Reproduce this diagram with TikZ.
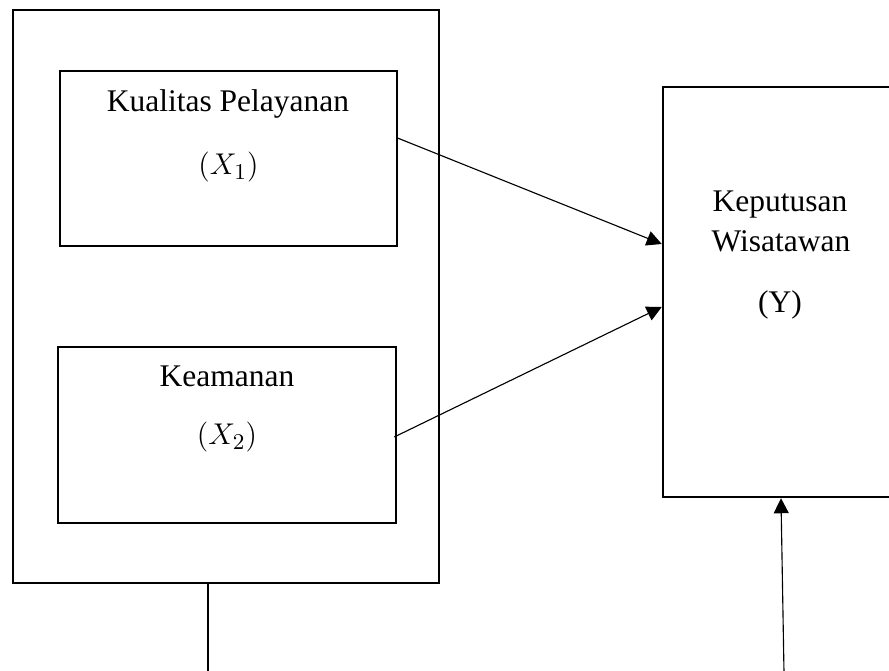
\documentclass[tikz,border=0pt]{standalone}
\usepackage{fontspec}
\setmainfont{Liberation Serif}
\usetikzlibrary{positioning,calc,arrows.meta}

\begin{document}
\begin{tikzpicture}[x=0.4pt,y=-0.4pt,
    box/.style={draw, line width=1pt, inner sep=0pt},
    lbl/.style={font=\fontsize{12.6}{16}\selectfont, inner sep=0pt, anchor=base},
    conn/.style={line width=0.45pt},
    arr/.style={conn, -{Triangle[length=6pt,width=6pt]}}]
    \useasboundingbox (0,0) rectangle (889,671);
    % boxes
    \node[box, minimum width=170.4pt, minimum height=229.2pt] (frame) at (226,296.5) {};
    \node[box, minimum width=134.8pt, minimum height=70pt] (kual) at (228.5,158.5) {};
    \node[box, minimum width=135.2pt, minimum height=70.4pt] (aman) at (227,435) {};
    \node[box, minimum width=93.6pt, minimum height=164pt] (wis) at (780,292) {};
    % labels
    \node[lbl] (kualA) at (228,112) {Kualitas Pelayanan};
    \node[lbl] (kualB) at (228.5,175) {$(X_1)$};
    \node[lbl] (amanA) at (227,387) {Keamanan};
    \node[lbl] (amanB) at (227,445) {$(X_2)$};
    \node[lbl] (wisA) at (780,212) {Keputusan};
    \node[lbl] (wisB) at (781,252) {Wisatawan};
    \node[lbl] (wisC) at (780,313) {(Y)};
    % connectors
    \draw[arr] ($(kual.east)+(-2,-21)$) -- ($(wis.west)+(0,-48)$);
    \draw[arr] ($(aman.east)+(-3,2)$) -- ($(wis.west)+(0,15)$);
    \coordinate (footL) at (208,672);
    \coordinate (footR) at (784,672);
    \draw[conn] (footL) -- (footL |- frame.south);
    \draw[arr] (footR) -- ($(wis.south)+(1,0)$);
\end{tikzpicture}
\end{document}
